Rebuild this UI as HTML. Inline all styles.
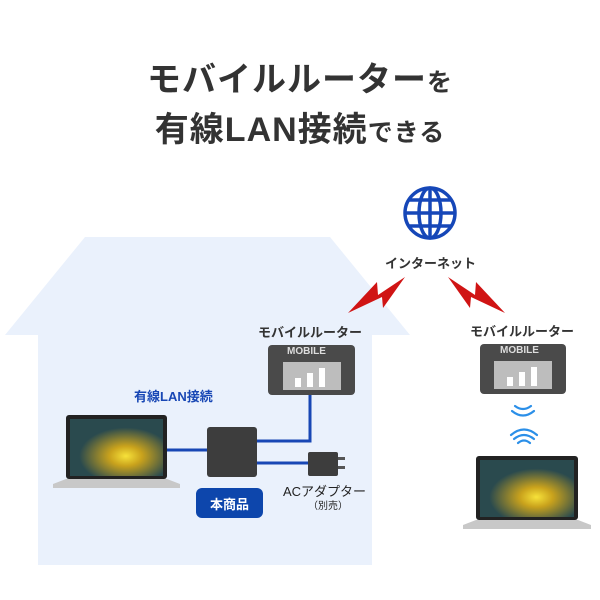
<!DOCTYPE html>
<html><head><meta charset="utf-8"><style>
body{margin:0;width:600px;height:600px;background:#fff;overflow:hidden;position:relative;font-family:"Liberation Sans","Noto Sans CJK JP",sans-serif}
.t{position:absolute;white-space:nowrap;font-weight:bold;color:#333}
</style></head><body>
<svg width="600" height="600" style="position:absolute;left:0;top:0">
<defs>
<radialGradient id="g1" cx="0.6" cy="0.65" r="0.5"><stop offset="0" stop-color="#f7e23a"/><stop offset="0.35" stop-color="#c9a21c"/><stop offset="1" stop-color="#2a4a4e"/></radialGradient>
</defs>
<polygon points="85,237 330,237 410,335 372,335 372,565 38,565 38,335 5,335" fill="#eaf1fc"/>
<g stroke="#1647b8" stroke-width="3.5" fill="none">
<circle cx="430" cy="213" r="25"/>
<ellipse cx="430" cy="213" rx="11" ry="25"/>
<line x1="430" y1="188" x2="430" y2="238"/>
<line x1="405" y1="213" x2="455" y2="213"/>
<path d="M409 200 H451 M409 226 H451"/>
</g>
<polygon points="348,313 377,282 378,295 405,277 383,308 382,297" fill="#d01414"/>
<polygon points="505,313 476,282 475,295 448,277 470,308 471,297" fill="#d01414"/>
<rect x="268" y="345" width="87" height="50" rx="4" fill="#4a4a4a"/>
<rect x="283" y="362" width="58" height="28" fill="#bdbdbd"/>
<rect x="295" y="378" width="6" height="9" fill="#fff"/><rect x="307" y="373" width="6" height="14" fill="#fff"/><rect x="319" y="368" width="6" height="19" fill="#fff"/>
<rect x="480" y="344" width="86" height="50" rx="4" fill="#4a4a4a"/>
<rect x="494" y="361" width="58" height="28" fill="#bdbdbd"/>
<rect x="507" y="377" width="6" height="9" fill="#fff"/><rect x="519" y="372" width="6" height="14" fill="#fff"/><rect x="531" y="367" width="6" height="19" fill="#fff"/>
<g stroke="#2b8fe8" stroke-width="2.2" fill="none" stroke-linecap="round">
<path d="M515 406 Q523 412 531 406 M512 411 Q523 420 534 411"/>
<path d="M518 443 Q524 438 530 443 M514 439 Q524 431 534 439 M511 435 Q524 424 537 435"/>
</g>
<g stroke="#1847b5" stroke-width="3" fill="none">
<line x1="165" y1="450" x2="208" y2="450"/>
<polyline points="255,441 310,441 310,395"/>
<line x1="255" y1="463" x2="310" y2="463"/>
</g>
<rect x="207" y="427" width="50" height="50" rx="3" fill="#3d3d3d"/>
<rect x="308" y="452" width="30" height="24" rx="2" fill="#3d3d3d"/>
<rect x="338" y="457" width="7" height="3" fill="#555"/><rect x="338" y="466" width="7" height="3" fill="#555"/>
<rect x="66" y="415" width="101" height="64" rx="3" fill="#222"/>
<rect x="70" y="419" width="93" height="57" fill="url(#g1)"/>
<path d="M53 484 L66 479 H167 L180 484 V488 H53Z" fill="#c8c8c8"/>
<rect x="476" y="456" width="102" height="64" rx="3" fill="#222"/>
<rect x="480" y="460" width="94" height="57" fill="url(#g1)"/>
<path d="M463 525 L476 520 H578 L591 525 V529 H463Z" fill="#c8c8c8"/>
<rect x="196" y="488" width="67" height="30" rx="6" fill="#0d46ac"/>
</svg>
<div class="t" style="left:0;width:600px;text-align:center;top:52px;font-size:34px;letter-spacing:1px">モバイルルーター<span style="font-size:25px">を</span></div>
<div class="t" style="left:0;width:600px;text-align:center;top:102px;font-size:34px;letter-spacing:1px">有線LAN接続<span style="font-size:25px">できる</span></div>
<div class="t" style="left:385px;top:253px;font-size:13px">インターネット</div>
<div class="t" style="left:258px;top:322px;font-size:13px">モバイルルーター</div>
<div class="t" style="left:470px;top:321px;font-size:13px">モバイルルーター</div>
<div class="t" style="left:287px;top:346px;font-size:10px;color:#ddd">MOBILE</div>
<div class="t" style="left:500px;top:345px;font-size:10px;color:#ddd">MOBILE</div>
<div class="t" style="left:134px;top:386px;font-size:13px;color:#1847b5">有線LAN接続</div>
<div class="t" style="left:196px;top:494px;width:67px;text-align:center;font-size:13px;color:#fff">本商品</div>
<div class="t" style="left:283px;top:481px;font-size:13px;font-weight:normal;color:#222">ACアダプター</div>
<div class="t" style="left:308px;top:497px;font-size:10px;font-weight:normal;color:#222">（別売）</div>
</body></html>
